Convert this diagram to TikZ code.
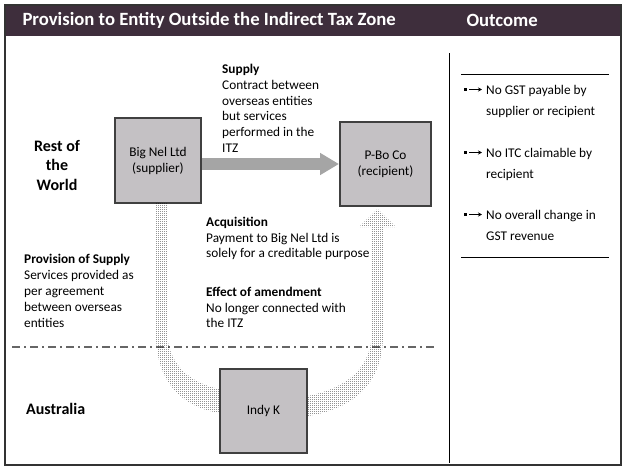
\documentclass[tikz,border=0pt]{standalone}
\usepackage{fontspec}
\setmainfont{Carlito}
\usetikzlibrary{calc}
\usetikzlibrary{patterns}
\usetikzlibrary{arrows.meta}
\definecolor{headerPurple}{RGB}{62,46,60}
\definecolor{boxGrey}{RGB}{196,193,196}
\definecolor{boxEdge}{RGB}{64,64,64}
\definecolor{flowGrey}{RGB}{165,165,165}
\newcommand{\bodySize}{\fontsize{13.3}{16}\selectfont}
\newcommand{\regionSize}{\fontsize{16}{19.5}\selectfont\bfseries}
\pgfdeclarepatternformonly{fine stipple}{\pgfpointorigin}{\pgfpoint{2pt}{2pt}}{\pgfpoint{2pt}{2pt}}{%
    \pgfpathrectangle{\pgfpointorigin}{\pgfpoint{1pt}{1pt}}\pgfusepath{fill}}

\begin{document}
\begin{tikzpicture}[x=1pt, y=-1pt]
            \tikzstyle{entity box} = [draw=boxEdge, line width=2pt, fill=boxGrey, align=center, font=\bodySize, inner sep=0pt]
            \tikzstyle{flow arrow} = [draw=flowGrey, line width=12pt, -{Triangle[length=19pt, width=21pt]}]
            \tikzstyle{stipple} = [pattern=fine stipple, pattern color=black]
            \tikzstyle{note} = [anchor=base west, align=left, inner sep=0pt, font=\bodySize]
            \tikzstyle{outcome item} = [anchor=base west, align=left, inner sep=0pt, font=\fontsize{13.3}{21}\selectfont]
            \tikzstyle{bullet arrow} = [line width=0.8pt, -{Stealth[length=4pt, width=4pt]}]

            \useasboundingbox (0, 0) rectangle (625, 472);

            % frame and heading band
            \fill[headerPurple] (5, 5) rectangle (621, 36);
            \draw[line width=1.5pt, draw=black!80] (5, 5) rectangle (621, 465);
            \node[anchor=west, text=white, font=\fontsize{18.7}{22}\selectfont\bfseries] (title) at (19, 20) {Provision to Entity Outside the Indirect Tax Zone};
            \node[anchor=west, text=white, font=\fontsize{18.7}{22}\selectfont\bfseries] (outcome title) at (463, 20) {Outcome};
            \draw[line width=1pt] (449, 53) -- (449, 463);

            % border between the two regions
            \draw[draw=black!60, line width=1.6pt, dash pattern=on 8pt off 4pt on 2pt off 4pt] (12, 347) -- (437, 347);

            % entities
            \node[entity box, minimum width=86pt, minimum height=85pt] (big nel) at (158, 160.5) {Big Nel Ltd\\(supplier)};
            \node[entity box, minimum width=91pt, minimum height=84pt] (p-bo) at (385.5, 164) {P-Bo Co\\(recipient)};

            % supply and payment flows
            \draw[flow arrow] (big nel.east |- p-bo.west) -- (p-bo.west);
            \fill[stipple] ($(big nel.south) + (-2, -1)$) -- ++(0, 131)
                .. controls +(0, 50) and +(-35, -6) .. ($(219, 411) + (0, 2)$)
                -- ($(219, 411) + (0, -22)$)
                .. controls +(-28, -6) and +(0, 35) .. ($(big nel.south) + (9, 126)$)
                -- ($(big nel.south) + (9, -1)$) -- cycle;
            \fill[stipple] ($(308, 411) + (0, -15)$)
                .. controls +(37, -8) and +(0, 40) .. ($(p-bo.south) + (-13.5, 123)$)
                -- ($(p-bo.south) + (-13.5, 20)$) -- ($(p-bo.south) + (-26.5, 20)$)
                -- ($(p-bo.south) + (-8, 2)$)
                -- ($(p-bo.south) + (10.5, 20)$) -- ($(p-bo.south) + (-2.5, 20)$)
                -- ($(p-bo.south) + (-2.5, 128)$)
                .. controls +(0, 55) and +(37, -6) .. ($(308, 411) + (0, 5)$) -- cycle;
            \node[entity box, minimum width=87pt, minimum height=84pt] (indy) at (263.5, 411) {Indy K};

            % region names
            \node[align=center, inner sep=0pt, font=\regionSize] (rest) at (57, 165) {Rest of\\the\\World};
            \node[anchor=base west, inner sep=0pt, font=\regionSize] (australia) at (26, 414.5) {Australia};

            % notes (anchored at the baseline of their last line)
            \node[note, font=\fontsize{13.3}{15.8}\selectfont] (supply) at (222, 152.5) {\textbf{Supply}\\Contract between\\overseas entities\\but services\\performed in the\\ITZ};
            \node[note] (provision) at (24, 327.5) {\textbf{Provision of Supply}\\Services provided as\\per agreement\\between overseas\\entities};
            \node[note, font=\fontsize{13.3}{15.5}\selectfont] (acquisition) at (206, 257.5) {\textbf{Acquisition}\\Payment to Big Nel Ltd is\\solely for a creditable purpose};
            \node[note, font=\fontsize{13.3}{15.5}\selectfont] (amendment) at (206, 327.5) {\textbf{Effect of amendment}\\No longer connected with\\the ITZ};

            % outcomes
            \draw[line width=1pt] (461, 74) -- (609, 74);
            \draw[line width=1pt] (461, 257) -- (609, 257);
            \node[outcome item] (no gst) at (486, 115.5) {No GST payable by\\supplier or recipient};
            \node[outcome item] (no itc) at (486, 178.5) {No ITC claimable by\\recipient};
            \node[outcome item] (no change) at (486, 240.5) {No overall change in\\GST revenue};
            \fill ($(no gst.base west) + (-22, -27.5)$) rectangle +(2.5, 3);
            \draw[bullet arrow] ($(no gst.base west) + (-17, -26)$) -- +(13, 0);
            \fill ($(no itc.base west) + (-22, -27.5)$) rectangle +(2.5, 3);
            \draw[bullet arrow] ($(no itc.base west) + (-17, -26)$) -- +(13, 0);
            \fill ($(no change.base west) + (-22, -27.5)$) rectangle +(2.5, 3);
            \draw[bullet arrow] ($(no change.base west) + (-17, -26)$) -- +(13, 0);
        \end{tikzpicture}
\end{document}
